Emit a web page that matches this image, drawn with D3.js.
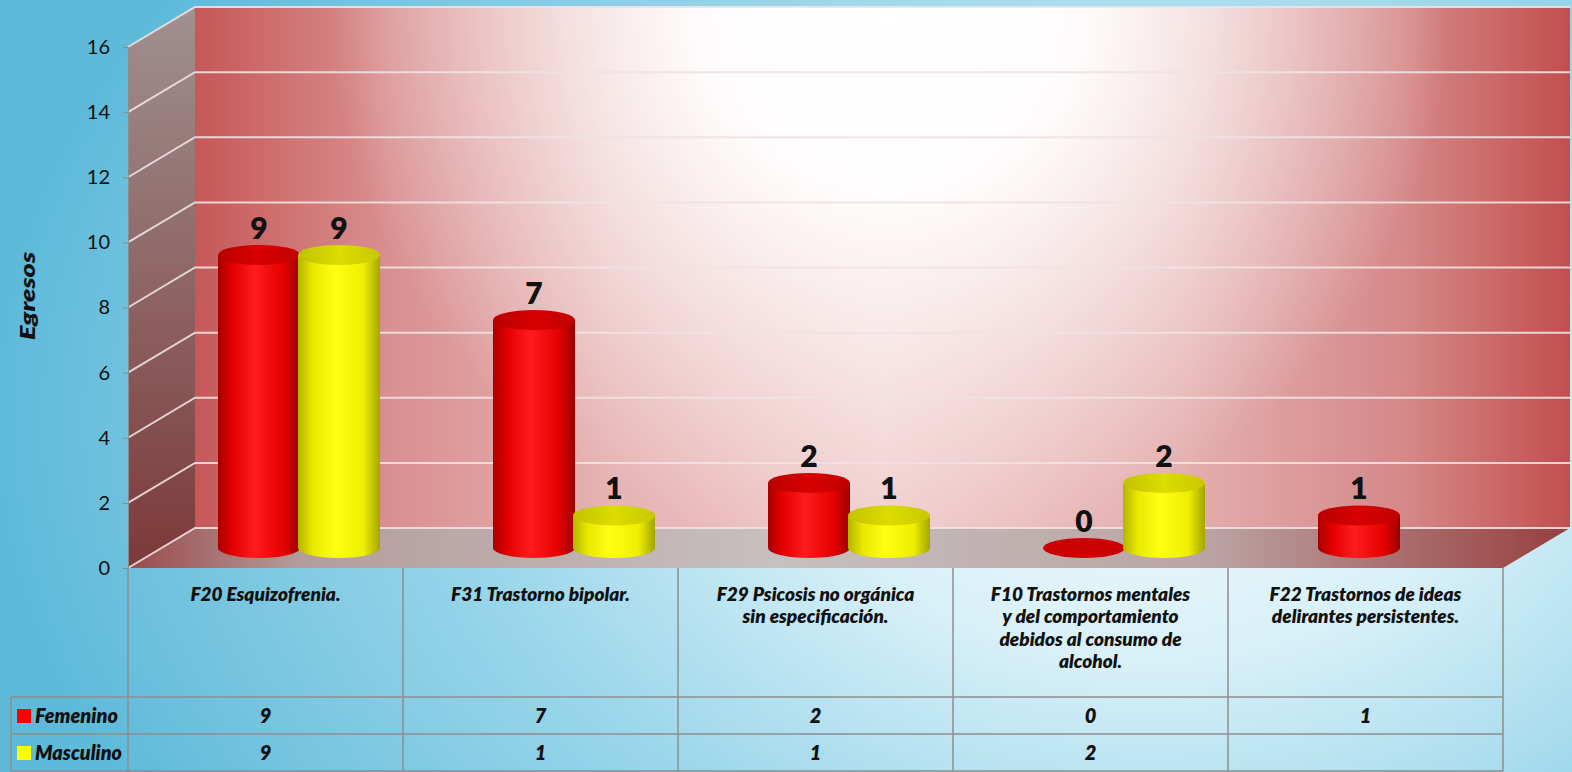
<!DOCTYPE html>
<html>
<head>
<meta charset="utf-8">
<script src="https://cdn.jsdelivr.net/npm/d3@7"></script>
<style>
  body { margin: 0; overflow: hidden; }
  svg { display: block; }
  text { font-family: Lato, "Open Sans", sans-serif; fill: #111; }
</style>
</head>
<body>
<svg id="chart" width="1572" height="772"></svg>
<script>
// données
const codes = ["F20", "F31", "F29", "F10", "F22"];
const categoryLines = [
  ["F20 Esquizofrenia."],
  ["F31 Trastorno bipolar."],
  ["F29 Psicosis no orgánica", "sin especificación."],
  ["F10 Trastornos mentales", "y del comportamiento", "debidos al consumo de", "alcohol."],
  ["F22 Trastornos de ideas", "delirantes persistentes."]
];
const seriesNames = ["Femenino", "Masculino"];
const femenino = [9, 7, 2, 0, 1];
const masculino = [9, 1, 1, 2, null];
const yTicks = [0, 2, 4, 6, 8, 10, 12, 14, 16];
const yTitle = "Egresos";

const svg = d3.select("#chart");
const defs = svg.append("defs");

// géométrie 3D
const dx = 67, dy = -40;          // profondeur du plancher
const midX = dx / 2, midY = dy / 2;
const y = d3.scaleLinear().domain([0, 16]).range([568, 47]);
const x = d3.scaleBand().domain(codes).range([128, 1503]);
const xSub = d3.scaleBand().domain(seriesNames).range([-80, 80]);
const rx = 41, ry = 10;

// style de texte gras italique
function bi(sel, size) {
  return sel.style("font-size", size + "px").style("font-weight", 800).style("font-style", "italic");
}

// dégradés
function linGrad(id, stops, x2, y2) {
  const g = defs.append("linearGradient").attr("id", id)
    .attr("x1", 0).attr("y1", 0).attr("x2", x2).attr("y2", y2);
  stops.forEach(s => g.append("stop").attr("offset", s[0]).attr("stop-color", s[1]));
}
const bg = defs.append("radialGradient").attr("id", "bg")
  .attr("gradientUnits", "userSpaceOnUse")
  .attr("cx", 1150).attr("cy", 420).attr("r", 1150)
  .attr("gradientTransform", "translate(1150,420) scale(1,0.7) translate(-1150,-420)");
[[0, "#f4fbfd"], [0.3, "#d8f0f8"], [0.6, "#9ad6ea"], [1, "#5fbada"]]
  .forEach(s => bg.append("stop").attr("offset", s[0]).attr("stop-color", s[1]));

linGrad("wall", [[0, "#c65858"], [0.14, "#d98f8f"], [0.3, "#e6b2b2"], [0.5, "#f0caca"], [0.72, "#e4aeae"], [0.88, "#d58888"], [1, "#c24f4e"]], 1, 0);
const glow = defs.append("radialGradient").attr("id", "glow")
  .attr("gradientUnits", "userSpaceOnUse").attr("cx", 890).attr("cy", 0).attr("r", 560);
glow.append("stop").attr("offset", 0).attr("stop-color", "#ffffff").attr("stop-opacity", 1);
glow.append("stop").attr("offset", 0.35).attr("stop-color", "#ffffff").attr("stop-opacity", 0.95);
glow.append("stop").attr("offset", 1).attr("stop-color", "#ffffff").attr("stop-opacity", 0);

linGrad("side", [[0, "#a09090"], [1, "#7c3939"]], 0, 1);
linGrad("floor", [[0, "#9a4a4a"], [0.12, "#b59c9c"], [0.45, "#c6c0c0"], [0.75, "#bba3a3"], [0.95, "#a05252"], [1, "#963e3e"]], 1, 0);

linGrad("redBody", [[0, "#a80000"], [0.18, "#e40000"], [0.45, "#ff1c1c"], [0.8, "#e60000"], [1, "#9a0000"]], 1, 0);
linGrad("redTop", [[0, "#b80000"], [0.5, "#d80000"], [1, "#c00000"]], 1, 0);
linGrad("yelBody", [[0, "#b4b400"], [0.18, "#e8e800"], [0.45, "#ffff14"], [0.8, "#eeee00"], [1, "#a4a400"]], 1, 0);
linGrad("yelTop", [[0, "#c2c200"], [0.5, "#dcdc00"], [1, "#c8c800"]], 1, 0);
const fills = { Femenino: ["url(#redBody)", "url(#redTop)", "#ff0000"], Masculino: ["url(#yelBody)", "url(#yelTop)", "#ffff00"] };

// fond
svg.append("rect").attr("width", 1572).attr("height", 772).attr("fill", "url(#bg)");

// parois
const backX0 = 128 + dx, backX1 = 1503 + dx;
svg.append("rect").attr("x", backX0).attr("y", y(16) + dy)
  .attr("width", backX1 - backX0).attr("height", y(0) - y(16)).attr("fill", "url(#wall)");
svg.append("rect").attr("x", backX0).attr("y", y(16) + dy)
  .attr("width", backX1 - backX0).attr("height", y(0) - y(16)).attr("fill", "url(#glow)");
svg.append("path")
  .attr("d", `M128,${y(16)} L${backX0},${y(16) + dy} L${backX0},${y(0) + dy} L128,${y(0)} Z`)
  .attr("fill", "url(#side)");
svg.append("path")
  .attr("d", `M128,${y(0)} L1503,${y(0)} L${backX1},${y(0) + dy} L${backX0},${y(0) + dy} Z`)
  .attr("fill", "url(#floor)");

// quadrillage
svg.append("g").selectAll("path").data(yTicks).join("path")
  .attr("d", v => `M128,${y(v)} L${backX0},${y(v) + dy} L${backX1},${y(v) + dy}`)
  .attr("fill", "none").attr("stroke", "#f0e2e2").attr("stroke-width", 2).attr("opacity", 0.9);

// axe
const axis = svg.append("g").attr("transform", "translate(128,0)")
  .call(d3.axisLeft(y).tickValues(yTicks).tickSize(5).tickPadding(13));
axis.select(".domain").attr("stroke", "#8c8c8c");
axis.selectAll(".tick line").attr("stroke", "#8c8c8c");
axis.selectAll(".tick text").style("font-size", "20px").style("font-family", "Lato, sans-serif").attr("fill", "#222");

bi(svg.append("text"), 21).attr("transform", "translate(35,296) rotate(-90)")
  .attr("text-anchor", "middle").attr("textLength", 88).attr("lengthAdjust", "spacingAndGlyphs")
  .text(yTitle);

// cylindres
const bars = [];
codes.forEach((c, i) => {
  [femenino[i], masculino[i]].forEach((v, s) => {
    if (v === null) return;
    bars.push({ code: c, serie: seriesNames[s], value: v });
  });
});
const base = y(0) + midY;
const gBars = svg.append("g");
bars.forEach(d => {
  const cx = x(d.code) + x.bandwidth() / 2 + midX + xSub(d.serie) + xSub.bandwidth() / 2;
  const top = y(d.value) + midY;
  const f = fills[d.serie];
  if (d.value > 0) {
    gBars.append("path")
      .attr("d", `M${cx - rx},${top} L${cx - rx},${base} A${rx},${ry} 0 0 0 ${cx + rx},${base} L${cx + rx},${top} Z`)
      .attr("fill", f[0]);
  }
  gBars.append("ellipse").attr("cx", cx).attr("cy", top).attr("rx", rx).attr("ry", ry)
    .attr("fill", d.value > 0 ? f[1] : "#cc0000");
  gBars.append("text").attr("x", cx).attr("y", top - ry - 6)
    .attr("text-anchor", "middle").style("font-size", "30px").style("font-weight", 800)
    .text(d.value);
});

// tableau de données
const tTop = 568, rowA = 697, rowB = 734, rowC = 771;
const grid = svg.append("g").attr("stroke", "#8e8e8e").attr("stroke-width", 1.5);
const bounds = codes.map(c => x(c)).concat([1503]);
grid.selectAll("line.v").data(bounds).join("line")
  .attr("x1", d => d).attr("x2", d => d).attr("y1", tTop).attr("y2", rowC);
grid.selectAll("line.h").data([rowA, rowB, rowC]).join("line")
  .attr("x1", 11).attr("x2", 1503).attr("y1", d => d).attr("y2", d => d);
grid.append("line").attr("x1", 11).attr("x2", 11).attr("y1", rowA).attr("y2", rowC);

const labelG = svg.append("g");
codes.forEach((c, i) => {
  const t = bi(labelG.append("text"), 19).attr("text-anchor", "middle");
  categoryLines[i].forEach((line, k) => {
    t.append("tspan").attr("x", x(c) + x.bandwidth() / 2).attr("y", 601 + k * 22.3).text(line);
  });
});

const legendWidths = [83, 87];
[femenino, masculino].forEach((vals, s) => {
  const ry0 = s === 0 ? rowA : rowB;
  svg.append("rect").attr("x", 17).attr("y", ry0 + 12).attr("width", 14).attr("height", 14)
    .attr("fill", fills[seriesNames[s]][2]);
  bi(svg.append("text"), 21).attr("x", 35).attr("y", ry0 + 26)
    .attr("textLength", legendWidths[s]).attr("lengthAdjust", "spacingAndGlyphs")
    .text(seriesNames[s]);
  vals.forEach((v, i) => {
    if (v === null) return;
    bi(svg.append("text"), 20).attr("x", x(codes[i]) + x.bandwidth() / 2).attr("y", ry0 + 26)
      .attr("text-anchor", "middle")
      .text(v);
  });
});
</script>
</body>
</html>
